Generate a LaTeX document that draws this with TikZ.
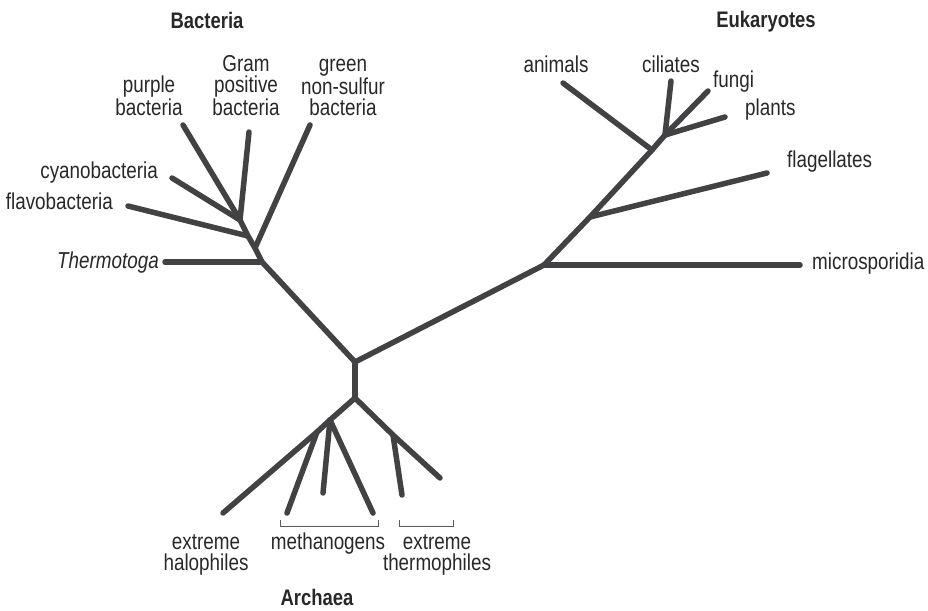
\documentclass[tikz,border=0pt]{standalone}
\usepackage{fontspec}
\setmainfont{Liberation Sans}[FakeStretch=0.82]
\usepackage{tikz}
\definecolor{cinzaescuro}{RGB}{66,66,68}
\definecolor{cinzatexto}{RGB}{40,40,40}
\definecolor{cinzamedio}{RGB}{90,90,90}
\tikzset{
  galho/.style={line width=5.5pt,cinzaescuro,line cap=round,line join=round},
  chave/.style={line width=1pt,cinzamedio},
  nome/.style={inner sep=0pt,text=cinzatexto,font=\fontsize{23}{21}\selectfont,align=center},
  grupo/.style={inner sep=0pt,text=cinzatexto,font=\fontsize{22.5}{21}\selectfont\bfseries}
}

\begin{document}
\begin{tikzpicture}[x=1pt,y=-1pt]
\useasboundingbox (0,0) rectangle (928,610);
% pontos de ramificacao
\coordinate (raiz) at (355,362);
\coordinate (arq) at (355,398);
\coordinate (bac) at (262,262);
\coordinate (b1) at (255,248);
\coordinate (b2) at (248,236);
\coordinate (b3) at (240,220);
\coordinate (e0) at (544,265);
\coordinate (e1) at (590,217);
\coordinate (e2) at (652,150);
\coordinate (e3) at (665,135);
\coordinate (a2) at (330,420);
\coordinate (a3) at (317,432);
\coordinate (a4) at (393,435);
% pontas
\coordinate (thermo) at (165,262);
\coordinate (verde) at (310,125);
\coordinate (flavo) at (128,206);
\coordinate (ciano) at (172,178);
\coordinate (purpura) at (183,125);
\coordinate (gram) at (249,132);
\coordinate (micro) at (800,265);
\coordinate (flag) at (767,173);
\coordinate (anim) at (563,83);
\coordinate (cili) at (671,81);
\coordinate (fung) at (708,91);
\coordinate (plan) at (725,117);
\coordinate (halo) at (223,513);
\coordinate (met1) at (287,513);
\coordinate (met2) at (323,493);
\coordinate (met3) at (373,513);
\coordinate (term1) at (402,495);
\coordinate (term2) at (440,478);

\draw[galho] (b3) -- (b2) -- (b1) -- (bac) -- (raiz) -- (e0) -- (e1) -- (e2) -- (e3);
\draw[galho] (raiz) -- (arq);
\draw[galho] (thermo) -- (bac);
\draw[galho] (verde) -- (b1);
\draw[galho] (flavo) -- (b2);
\draw[galho] (ciano) -- (b3);
\draw[galho] (purpura) -- (b3);
\draw[galho] (gram) -- (b3);
\draw[galho] (micro) -- (e0);
\draw[galho] (flag) -- (e1);
\draw[galho] (anim) -- (e2);
\draw[galho] (cili) -- (e3);
\draw[galho] (fung) -- (e3);
\draw[galho] (plan) -- (e3);
\draw[galho] (halo) -- (a3) -- (a2) -- (arq) -- (a4) -- (term2);
\draw[galho] (met1) -- (a3);
\draw[galho] (met2) -- (a2);
\draw[galho] (met3) -- (a2);
\draw[galho] (term1) -- (a4);

% chaves
\coordinate (c1) at (280,520);
\coordinate (c2) at (378,520);
\coordinate (c3) at (399,520);
\coordinate (c4) at (453,520);
\draw[chave] (c1) -- ++(0,6) -| (c2);
\draw[chave] (c3) -- ++(0,6) -| (c4);

% rotulos
\node[grupo,anchor=base] (tbac) at (207,29) {Bacteria};
\node[grupo,anchor=base] (teuk) at (766,28) {Eukaryotes};
\node[grupo,anchor=base] (tarq) at (317,605) {Archaea};
\node[nome,anchor=base] (tanim) at (556,73) {animals};
\node[nome,anchor=base] (tcili) at (671,73) {ciliates};
\node[nome,anchor=base west] (tfung) at (713,87) {fungi};
\node[nome,anchor=base west] (tplan) at (745,115) {plants};
\node[nome,anchor=base west] (tflag) at (787,167) {flagellates};
\node[nome,anchor=base west] (tmicro) at (812,269) {microsporidia};
\node[nome,anchor=base] (tpurp) at (149,115) {purple\\bacteria};
\node[nome,anchor=base] (tgram) at (246,115) {Gram\\positive\\bacteria};
\node[nome,anchor=base] (tverde) at (343,115) {green\\non-sulfur\\bacteria};
\node[nome,anchor=base east] (tciano) at (158,178) {cyanobacteria};
\node[nome,anchor=base east] (tflavo) at (113,209) {flavobacteria};
\node[nome,anchor=base east] (tthermo) at (159,268) {\itshape Thermotoga};
\node[nome,anchor=base] (thalo) at (206,570) {extreme\\halophiles};
\node[nome,anchor=base] (tmet) at (328,549) {methanogens};
\node[nome,anchor=base] (tterm) at (437,570) {extreme\\thermophiles};
\end{tikzpicture}
\end{document}
